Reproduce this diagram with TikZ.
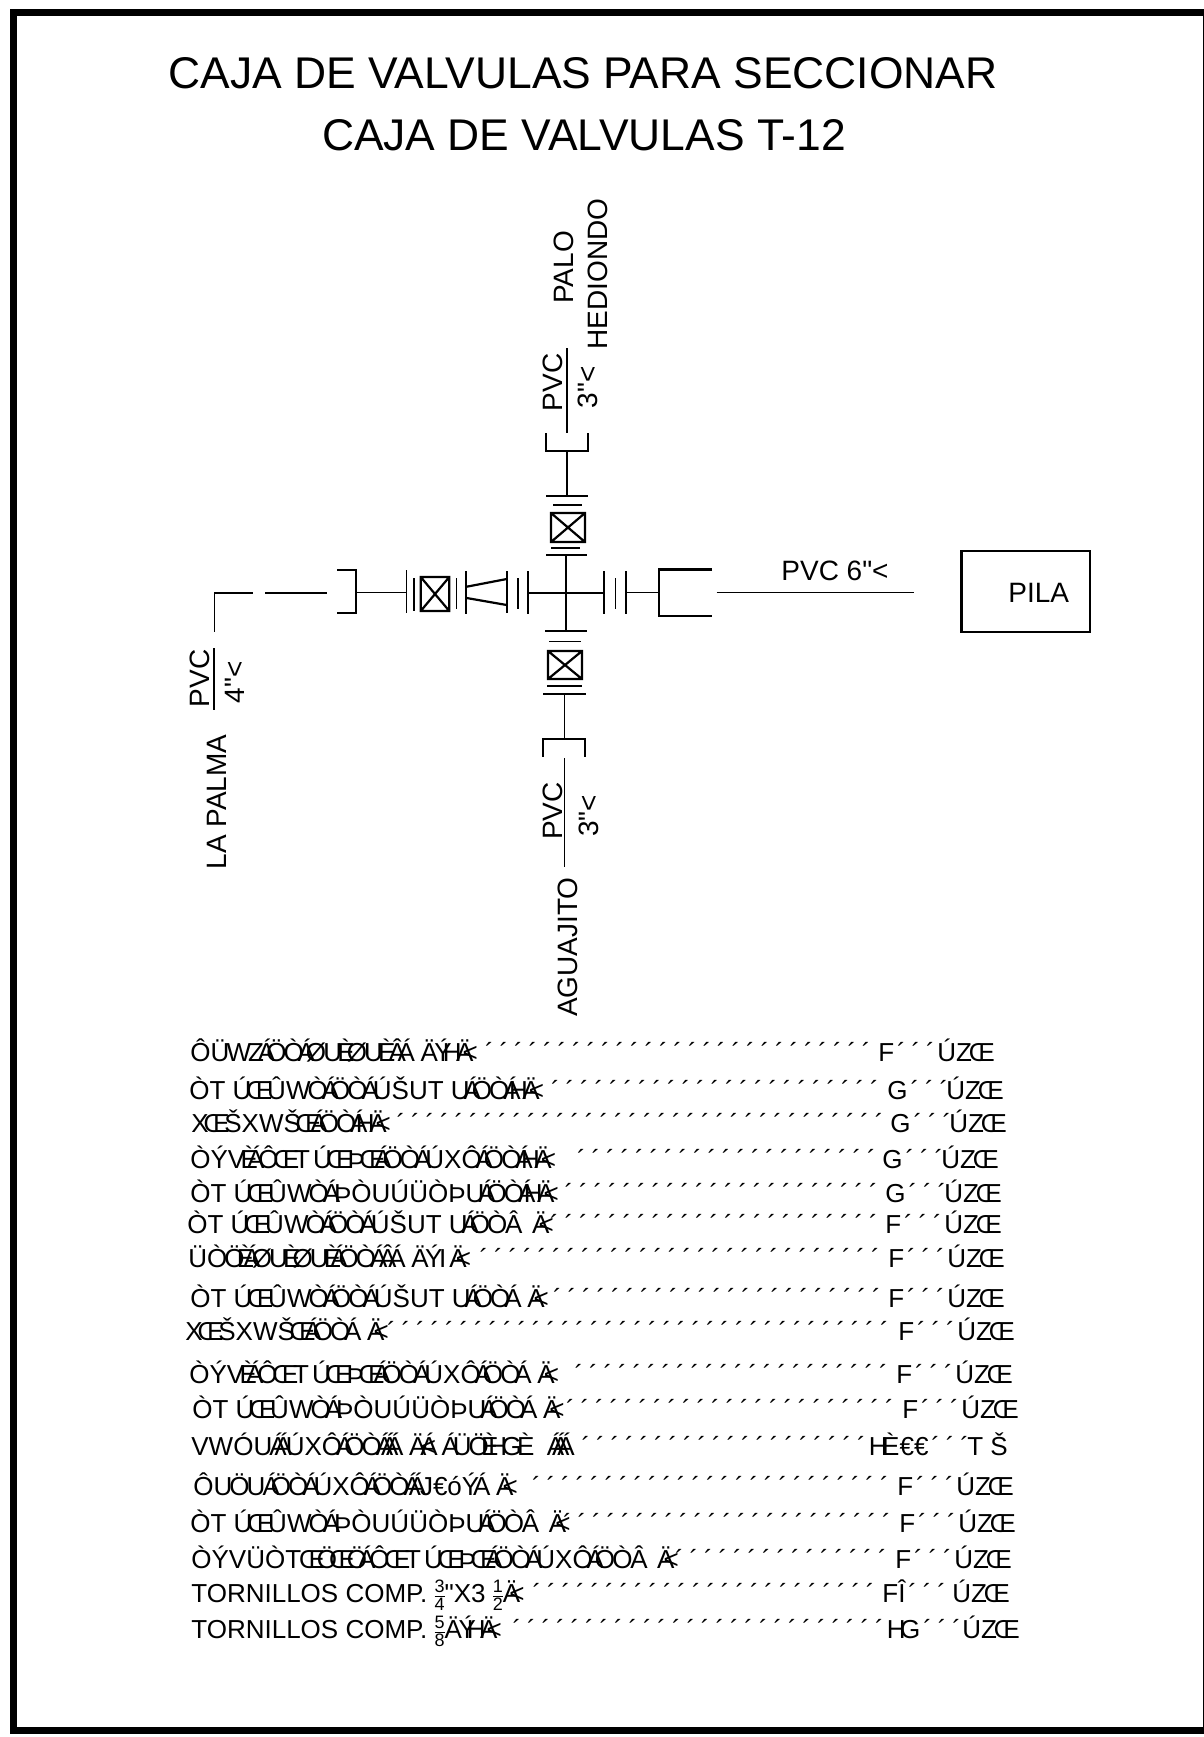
\documentclass[tikz,border=0pt]{standalone}
\usepackage{amsmath}
\usepackage{fontspec}
\setmainfont{Liberation Sans}[Ligatures=TeXOff]
\usetikzlibrary{positioning}

% garbled glyphs that overlap their neighbours
\newcommand{\gA}{\makebox[.2em][c]{Á}}
\newcommand{\gO}{\makebox[.55em][c]{Ö}}
\newcommand{\gE}{\makebox[.6em][c]{Œ}}
\newcommand{\gI}{\makebox[.3em][c]{È}}
\newcommand{\gH}{\makebox[.3em][c]{H}}
\newcommand{\gT}{\makebox[.5em][c]{Â}}
\newcommand{\gW}{\makebox[.72em][c]{W}}
\newcommand{\gB}{\makebox[.55em][c]{Ø}}
\newcommand{\gY}{\makebox[.4em][c]{Ý}}
\newcommand{\gL}{\kern-.42em<}
\newcommand{\gS}{\kern.12em}
\newcommand{\gG}{\kern.45em}
\newcommand{\unitp}{ÚZ\kern-.12emŒ}
\newcommand{\ticks}[1]{\foreach \k in {1,...,#1}{\makebox[7.25pt][c]{´}}}
\newcommand{\frc}[2]{\kern-1.2pt$\frac{\mbox{\fontsize{9}{9}\selectfont #1}}{\mbox{\fontsize{9}{9}\selectfont #2}}$\kern-1.2pt}
% one row of the list: baseline, text x, text, end of ticks, no. of ticks, amount x, amount, unit
\newcommand{\matline}[8]{%
	\node[rowtext] (txt#1) at ({#2-2},#1) {#3};
	\node[rowtext,anchor=base east] (tck#1) at (#4,#1) {\ticks{#5}};
	\node[rowtext] (amt#1) at (#6,#1) {\makebox[29.5pt][l]{#7\ticks{3}}#8};
}

\tikzset{
	rowtext/.style={inner sep=0pt,anchor=base west,font=\fontsize{13}{15}\selectfont},
	pipetext/.style={inner sep=0pt,font=\fontsize{14}{16}\selectfont},
	vtext/.style={pipetext,rotate=90,anchor=base},
	pipe/.style={line width=.7pt},
	bar/.style={line width=1.1pt},
	thinbar/.style={line width=.6pt},
	valvebox/.style={line width=1.1pt}
}

\begin{document}
\begin{tikzpicture}[x=.5pt,y=-.5pt]
	\useasboundingbox (0,0) rectangle (1204,1737);
	% frame
	\fill (10,9) rectangle (1204,16);
	\fill (10,9) rectangle (17,1734);
	\fill (10,1727) rectangle (1204,1734);
	\fill (1202.5,9) rectangle (1204,1734);
	% title
	\node[inner sep=0pt,anchor=base,font=\fontsize{22.2}{26}\selectfont] (title1) at (583,88) {CAJA DE VALVULAS PARA SECCIONAR};
	\node[inner sep=0pt,anchor=base,font=\fontsize{22.2}{26}\selectfont] (title2) at (584,150) {CAJA DE VALVULAS T-12};
	% cross
	\draw[pipe,line width=.9pt] (527.7,592.7) -- (604,592.7);
	\draw[pipe,line width=.9pt] (565.7,555) -- (565.7,630.7);
	% east branch
	\draw[bar] (604,571) -- (604,614);
	\draw[thinbar] (615.7,578) -- (615.7,609);
	\draw[bar] (625.7,571) -- (625.7,614);
	\draw[pipe] (625.7,592.7) -- (659,592.7);
	\draw[bar] (712,569.5) -- (659,569.5) -- (659,616) -- (712,616);
	\draw[pipe] (716.5,592.7) -- (913.5,592.7);
	\node[pipetext,anchor=base west] (pvc6) at (781,580) {PVC 6"<};
	\draw[bar] (961.5,551) rectangle (1090,632);
	\node[pipetext,anchor=base west] (pila) at (1008,602) {PILA};
	% north branch
	\draw[bar] (546,555) -- (587,555);
	\draw[thinbar] (551,548) -- (580,548);
	\draw[valvebox] (551,513) rectangle (585,542) (551,513) -- (585,542) (551,542) -- (585,513);
	\draw[thinbar] (553,505) -- (582,505);
	\draw[bar] (546,496) -- (588,496);
	\draw[pipe] (567,496) -- (567,451);
	\draw[pipe] (546,433) -- (546,451) -- (588,451) -- (588,433);
	\draw[pipe] (567,348) -- (567,433);
	\node[vtext] (pvcn) at (562,382.5) {PVC};
	\node[vtext] (sizen) at (597,387.5) {3"<};
	\node[vtext] (palo) at (573,267.5) {PALO};
	\node[vtext] (hediondo) at (607,274) {HEDIONDO};
	% south branch
	\draw[bar] (545,630.7) -- (587,630.7);
	\draw[thinbar] (549,641.7) -- (581,641.7);
	\draw[valvebox] (548,651) rectangle (582,679) (548,651) -- (582,679) (548,679) -- (582,651);
	\draw[thinbar] (547,686) -- (582,686);
	\draw[bar] (543,693.7) -- (586,693.7);
	\draw[pipe] (564.3,693.7) -- (564.3,739);
	\draw[pipe] (543,756.7) -- (543,739) -- (585,739) -- (585,756.7);
	\draw[pipe] (564.3,758) -- (564.3,867);
	\node[vtext] (pvcs) at (562,811) {PVC};
	\node[vtext] (sizes) at (598,816) {3"<};
	\node[vtext] (aguajito) at (577,947) {AGUAJITO};
	% west branch
	\draw[bar] (527.7,571) -- (527.7,614);
	\draw[thinbar] (518,578) -- (518,609);
	\draw[bar] (506.7,571) -- (506.7,613);
	\draw[bar] (506.7,579) -- (466.7,586.7) (506.7,605) -- (466.7,598);
	\draw[bar] (466,571) -- (466,614);
	\draw[thinbar] (456.7,578) -- (456.7,609);
	\draw[valvebox] (420.7,577) rectangle (449.3,611) (420.7,577) -- (449.3,611) (420.7,611) -- (449.3,577);
	\draw[thinbar] (414,578) -- (414,611);
	\draw[thinbar] (406.7,570) -- (406.7,613);
	\draw[pipe] (406.7,592.7) -- (356,592.7);
	\draw[thinbar] (337,570) -- (356,570) -- (356,613) -- (337,613);
	\draw[pipe] (326.7,593) -- (265,593);
	\draw[pipe] (252.7,593) -- (214.3,593) -- (214.3,631.7);
	\draw[pipe] (214,648) -- (214,710);
	\node[vtext] (pvcw) at (209,678.5) {PVC};
	\node[vtext] (sizew) at (244,682.5) {4"<};
	\node[vtext] (lapalma) at (226,802) {LA PALMA};
	% list
	\matline{1061}{192}{ÔÜ\gW Z\gA\gO Ò\gA\gB U\gI\gB U\gI\gT\gA\gG Ä\gY\gH Ä\gL}{874}{27}{878}{F}{\unitp}
	\matline{1099}{191}{ÒT Ú\gE Û\gS\gW Ò\gA\gO Ò\gA ÚŠUT U\gA\gO Ò\gA\gH Ä\gL}{882}{23}{887}{G}{\unitp}
	\matline{1132}{193}{X\gE ŠXWŠ\gE\gA\gO Ò\gA\gH Ä\gL}{887}{34}{890}{G}{\unitp}
	\matline{1168}{192}{ÒÝV\gI\gA Ô\gE T\gS Ú\gE Þ\gE\gA\gO Ò\gA ÚXÔ\gA\gO Ò\gA\gH Ä\gL}{879}{21}{882}{G}{\unitp}
	\matline{1202}{192}{ÒT Ú\gE Û\gS\gW Ò\gA ÞÒUÚÜÒÞU\gA\gO Ò\gA\gH Ä\gL}{881}{22}{885}{G}{\unitp}
	\matline{1233}{189}{ÒT Ú\gE Û\gS\gW Ò\gA\gO Ò\gA ÚŠUT U\gA\gO Ò\gT\gG Ä\gL}{881}{23}{885}{F}{\unitp}
	\matline{1267}{190}{ÜÒ\gO\gI\gA\gB U\gI\gB U\gI\gA\gO Ò\gA\gT\gA\gG Ä\gY I\gS Ä\gL}{883}{28}{888}{F}{\unitp}
	\matline{1307}{192}{ÒT Ú\gE Û\gS\gW Ò\gA\gO Ò\gA ÚŠUT U\gA\gO Ò\gA\gG Ä\gL}{884}{23}{888}{F}{\unitp}
	\matline{1340}{187}{X\gE ŠXWŠ\gE\gA\gO Ò\gA\gG Ä\gL}{892}{35}{898}{F}{\unitp}
	\matline{1383}{191}{ÒÝV\gI\gA Ô\gE T\gS Ú\gE Þ\gE\gA\gO Ò\gA ÚXÔ\gA\gO Ò\gA\gG Ä\gL}{891}{22}{896}{F}{\unitp}
	\matline{1418}{194}{ÒT Ú\gE Û\gS\gW Ò\gA ÞÒUÚÜÒÞU\gA\gO Ò\gA\gG Ä\gL}{897}{23}{902}{F}{\unitp}
	\matline{1455}{193}{VWÓU\gS\gA\gA ÚXÔ\gA\gO Ò\gA\gA\gA\gG Ä\gA\gL\gG\gA Ü\gO\gI\gH G\gI\gG\gG\gA\gA\gA}{869}{20}{874}{\gH È€€}{\kern17pt T Š}
	\matline{1495}{195}{ÔU\gO U\gS\gA\gO Ò\gA ÚXÔ\gA\gO Ò\gA\gA J€óÝ\gA\gG Ä\gL}{892}{25}{897}{F}{\unitp}
	\matline{1532}{192}{ÒT Ú\gE Û\gS\gW Ò\gA ÞÒUÚÜÒÞU\gA\gO Ò\gT\gG Ä\gL}{894}{23}{899}{F}{\unitp}
	\matline{1568}{193}{ÒÝVÜÒT\gS\gE\gO\gE\gO\gA Ô\gE T\gS Ú\gE Þ\gE\gA\gO Ò\gA ÚXÔ\gA\gO Ò\gT\gG Ä\gL}{890}{15}{895}{F}{\unitp}
	\matline{1602}{193}{TORNILLOS COMP. \frc{3}{4}"X3 \frc{1}{2}Ä\gL}{878}{24}{882}{FÎ}{\kern5.5pt\unitp}
	\matline{1638}{193}{TORNILLOS COMP. \frc{5}{8}Ä\gY\gH Ä\gL}{887}{26}{892}{\gH G}{\kern5.5pt\unitp}
\end{tikzpicture}
\end{document}
